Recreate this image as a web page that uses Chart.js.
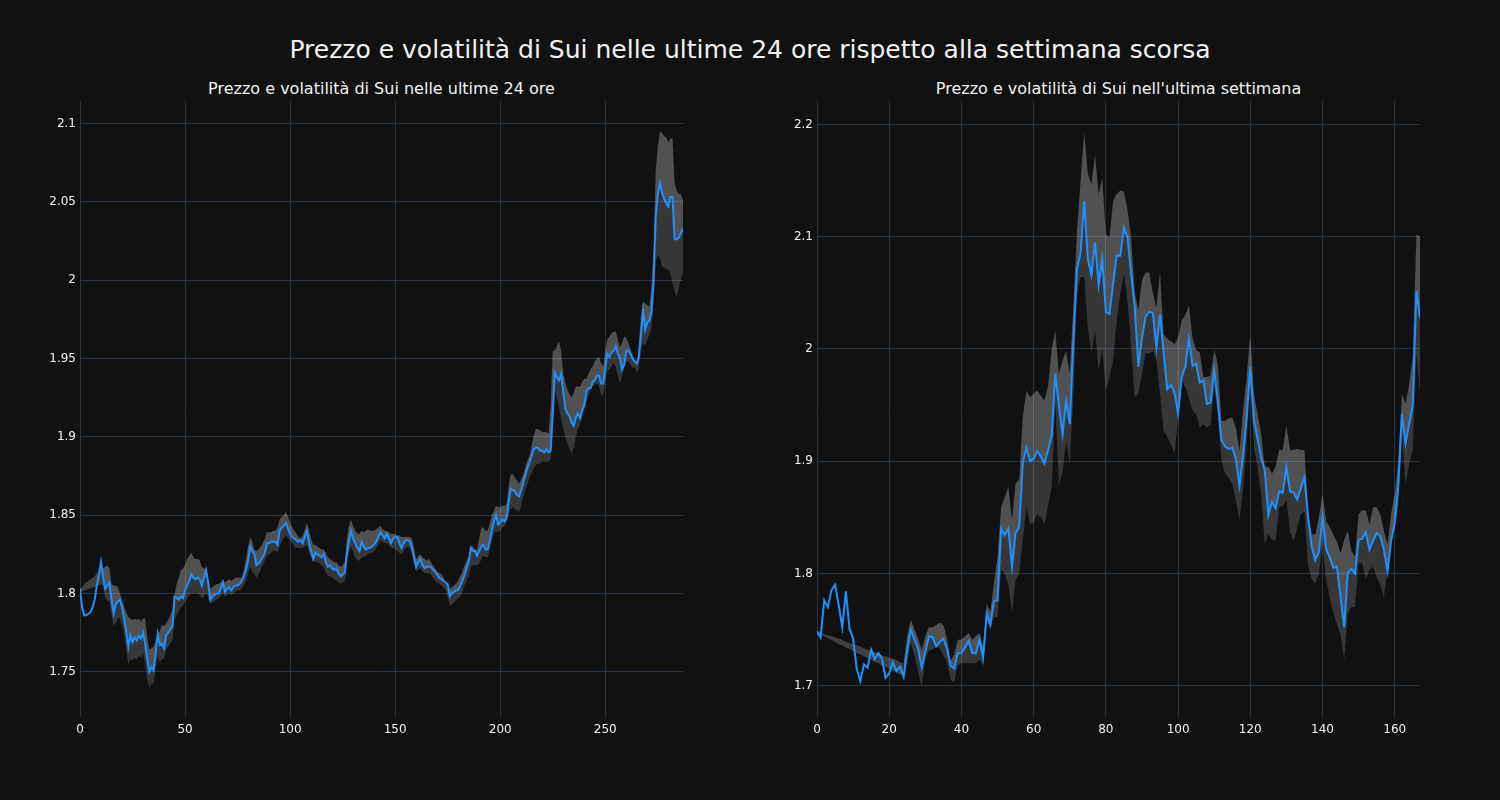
<!DOCTYPE html>
<html>
<head>
<meta charset="utf-8">
<script src="https://cdn.jsdelivr.net/npm/chart.js@4.4.1/dist/chart.umd.min.js"></script>
<style>
  body { margin: 0; background: #111111; width: 1500px; height: 800px; overflow: hidden; font-family: 'DejaVu Sans', sans-serif; }
  .title { position: absolute; left: 0; top: 35px; width: 1500px; line-height: 30px; text-align: center; color: #f2f2f2; font-size: 25px; }
  .sub { position: absolute; top: 79px; width: 603px; line-height: 20px; text-align: center; color: #f2f2f2; font-size: 16px; }
  .box { position: absolute; top: 90px; width: 700px; height: 710px; }
</style>
</head>
<body>
<div class="title">Prezzo e volatilità di Sui nelle ultime 24 ore rispetto alla settimana scorsa</div>
<div class="sub" style="left:80px">Prezzo e volatilità di Sui nelle ultime 24 ore</div>
<div class="sub" style="left:817px">Prezzo e volatilità di Sui nell'ultima settimana</div>
<div class="box" style="left:0px"><canvas id="dayChart"></canvas></div>
<div class="box" style="left:737px"><canvas id="weekChart"></canvas></div>
<script>
// ultime 24 ore (5 minuti)
const dayPrice = [
  1.803,1.791,1.786,1.786,1.787,1.788,1.791,1.796,1.805,1.812,
  1.820,1.810,1.803,1.805,1.807,1.796,1.787,1.793,1.795,1.796,
  1.791,1.784,1.776,1.766,1.773,1.769,1.772,1.770,1.773,1.771,
  1.775,1.768,1.758,1.750,1.753,1.751,1.762,1.774,1.767,1.768,
  1.765,1.773,1.775,1.777,1.779,1.798,1.797,1.796,1.798,1.797,
  1.802,1.805,1.808,1.812,1.810,1.809,1.810,1.809,1.805,1.810,
  1.815,1.807,1.796,1.798,1.799,1.800,1.800,1.803,1.807,1.801,
  1.803,1.804,1.802,1.804,1.805,1.805,1.806,1.808,1.811,1.815,
  1.821,1.830,1.827,1.825,1.818,1.819,1.821,1.823,1.826,1.832,
  1.832,1.833,1.833,1.833,1.831,1.840,1.842,1.843,1.845,1.841,
  1.838,1.836,1.835,1.834,1.833,1.834,1.832,1.836,1.840,1.832,
  1.827,1.822,1.826,1.825,1.824,1.823,1.825,1.820,1.817,1.818,
  1.816,1.815,1.816,1.813,1.811,1.812,1.813,1.825,1.833,1.840,
  1.835,1.832,1.829,1.827,1.833,1.830,1.828,1.829,1.829,1.830,
  1.831,1.833,1.836,1.839,1.837,1.835,1.838,1.835,1.832,1.835,
  1.836,1.836,1.832,1.829,1.832,1.834,1.834,1.833,1.829,1.823,
  1.817,1.820,1.822,1.818,1.816,1.817,1.817,1.817,1.815,1.814,
  1.812,1.810,1.809,1.808,1.807,1.806,1.798,1.800,1.801,1.802,
  1.802,1.805,1.808,1.812,1.816,1.820,1.829,1.827,1.827,1.824,
  1.827,1.830,1.831,1.828,1.828,1.833,1.840,1.846,1.850,1.844,
  1.845,1.847,1.846,1.848,1.858,1.867,1.866,1.865,1.863,1.862,
  1.866,1.871,1.876,1.880,1.884,1.888,1.892,1.893,1.893,1.891,
  1.891,1.890,1.892,1.890,1.891,1.915,1.941,1.938,1.936,1.940,
  1.929,1.918,1.915,1.913,1.909,1.907,1.912,1.915,1.912,1.917,
  1.920,1.929,1.931,1.931,1.935,1.936,1.939,1.939,1.934,1.934,
  1.944,1.953,1.951,1.954,1.955,1.958,1.953,1.950,1.943,1.946,
  1.955,1.955,1.953,1.950,1.948,1.947,1.951,1.965,1.980,1.968,
  1.973,1.974,1.980,1.999,2.040,2.055,2.062,2.056,2.052,2.049,
  2.047,2.053,2.053,2.026,2.026,2.027,2.030,2.033
];
const dayUpper = [
  1.803,1.804,1.806,1.807,1.808,1.809,1.810,1.811,1.813,1.814,
  1.815,1.816,1.817,1.818,1.816,1.806,1.805,1.805,1.804,1.800,
  1.796,1.792,1.788,1.785,1.784,1.783,1.784,1.783,1.784,1.782,
  1.784,1.784,1.772,1.764,1.765,1.766,1.770,1.774,1.776,1.780,
  1.779,1.781,1.783,1.786,1.790,1.799,1.806,1.810,1.815,1.816,
  1.818,1.822,1.824,1.826,1.823,1.822,1.822,1.821,1.817,1.816,
  1.815,1.810,1.803,1.804,1.805,1.806,1.806,1.807,1.809,1.807,
  1.808,1.809,1.808,1.809,1.810,1.810,1.810,1.810,1.815,1.822,
  1.830,1.836,1.833,1.828,1.827,1.828,1.830,1.832,1.835,1.839,
  1.839,1.839,1.840,1.840,1.842,1.847,1.849,1.850,1.852,1.849,
  1.845,1.842,1.840,1.838,1.836,1.835,1.837,1.841,1.845,1.840,
  1.835,1.831,1.831,1.830,1.829,1.828,1.828,1.826,1.823,1.822,
  1.821,1.820,1.820,1.818,1.817,1.818,1.820,1.835,1.843,1.847,
  1.843,1.840,1.838,1.838,1.840,1.839,1.840,1.841,1.840,1.840,
  1.840,1.841,1.842,1.843,1.841,1.840,1.840,1.839,1.838,1.838,
  1.838,1.837,1.837,1.836,1.836,1.836,1.836,1.836,1.835,1.829,
  1.822,1.824,1.825,1.823,1.822,1.821,1.822,1.820,1.818,1.816,
  1.814,1.813,1.812,1.810,1.807,1.804,1.803,1.804,1.805,1.806,
  1.808,1.811,1.814,1.818,1.821,1.823,1.830,1.830,1.828,1.828,
  1.835,1.842,1.842,1.840,1.840,1.845,1.850,1.853,1.856,1.855,
  1.855,1.856,1.856,1.857,1.868,1.876,1.876,1.874,1.872,1.870,
  1.873,1.876,1.881,1.885,1.888,1.895,1.901,1.905,1.905,1.904,
  1.903,1.903,1.903,1.902,1.920,1.955,1.955,1.958,1.961,1.955,
  1.940,1.935,1.930,1.927,1.925,1.928,1.932,1.932,1.932,1.935,
  1.937,1.937,1.940,1.943,1.945,1.948,1.950,1.951,1.947,1.945,
  1.955,1.962,1.964,1.966,1.967,1.967,1.962,1.957,1.960,1.964,
  1.963,1.960,1.956,1.952,1.948,1.945,1.960,1.978,1.986,1.985,
  1.984,1.983,1.996,2.020,2.070,2.085,2.095,2.094,2.092,2.091,
  2.088,2.090,2.091,2.062,2.057,2.055,2.055,2.051
];
const dayLower = [
  1.801,1.801,1.802,1.802,1.803,1.803,1.804,1.804,1.805,1.805,
  1.806,1.804,1.797,1.795,1.795,1.786,1.779,1.781,1.784,1.784,
  1.780,1.773,1.764,1.755,1.758,1.757,1.759,1.758,1.760,1.759,
  1.762,1.755,1.745,1.740,1.742,1.743,1.752,1.760,1.756,1.758,
  1.758,1.764,1.766,1.768,1.770,1.783,1.786,1.788,1.791,1.792,
  1.795,1.797,1.799,1.800,1.800,1.800,1.800,1.799,1.797,1.798,
  1.800,1.798,1.793,1.794,1.795,1.796,1.797,1.798,1.800,1.798,
  1.799,1.800,1.799,1.800,1.801,1.802,1.802,1.803,1.805,1.808,
  1.813,1.817,1.814,1.812,1.810,1.812,1.815,1.818,1.821,1.824,
  1.825,1.826,1.827,1.827,1.826,1.830,1.833,1.835,1.837,1.835,
  1.834,1.832,1.830,1.829,1.829,1.829,1.829,1.830,1.831,1.826,
  1.823,1.821,1.820,1.820,1.819,1.818,1.817,1.813,1.811,1.811,
  1.810,1.809,1.808,1.807,1.806,1.807,1.808,1.818,1.826,1.830,
  1.826,1.823,1.821,1.821,1.823,1.823,1.824,1.825,1.826,1.826,
  1.827,1.829,1.831,1.834,1.833,1.832,1.832,1.831,1.829,1.829,
  1.828,1.827,1.826,1.825,1.827,1.829,1.830,1.829,1.825,1.819,
  1.814,1.815,1.816,1.814,1.813,1.813,1.813,1.812,1.810,1.808,
  1.807,1.806,1.805,1.804,1.802,1.798,1.792,1.793,1.794,1.796,
  1.797,1.798,1.801,1.805,1.808,1.811,1.817,1.818,1.818,1.818,
  1.819,1.822,1.824,1.823,1.823,1.828,1.834,1.838,1.840,1.839,
  1.840,1.842,1.843,1.845,1.850,1.854,1.855,1.854,1.853,1.852,
  1.856,1.862,1.866,1.870,1.874,1.877,1.880,1.882,1.883,1.883,
  1.884,1.884,1.884,1.884,1.886,1.905,1.930,1.925,1.918,1.912,
  1.905,1.900,1.896,1.892,1.889,1.893,1.900,1.905,1.908,1.912,
  1.917,1.922,1.926,1.930,1.932,1.933,1.934,1.932,1.927,1.926,
  1.935,1.942,1.943,1.945,1.947,1.945,1.938,1.934,1.938,1.944,
  1.948,1.948,1.946,1.944,1.944,1.941,1.943,1.955,1.960,1.958,
  1.962,1.965,1.970,1.985,2.012,2.016,2.014,2.009,2.008,2.007,
  2.007,2.004,1.998,1.993,1.989,1.995,2.001,2.005
];
const dayWedgeEnd = 10; // prima della finestra mobile
const dayXTicks = [0, 50, 100, 150, 200, 250];
const dayYTicks = [1.75, 1.8, 1.85, 1.9, 1.95, 2, 2.05, 2.1];

// ultima settimana (orario)
const weekPrice = [
  1.748,1.743,1.776,1.770,1.785,1.790,1.772,1.752,1.784,1.751,
  1.742,1.715,1.704,1.719,1.716,1.732,1.724,1.729,1.724,1.707,
  1.711,1.721,1.713,1.717,1.708,1.732,1.750,1.741,1.733,1.716,
  1.730,1.744,1.743,1.735,1.739,1.742,1.733,1.718,1.715,1.729,
  1.729,1.734,1.740,1.729,1.729,1.741,1.725,1.764,1.754,1.775,
  1.776,1.840,1.834,1.840,1.806,1.836,1.841,1.899,1.912,1.900,
  1.902,1.909,1.904,1.898,1.910,1.923,1.978,1.949,1.924,1.954,
  1.933,2.007,2.071,2.086,2.132,2.080,2.066,2.095,2.057,2.080,
  2.033,2.031,2.058,2.083,2.083,2.108,2.099,2.067,2.037,1.984,
  2.010,2.029,2.033,2.032,2.001,2.031,1.996,1.964,1.968,1.961,
  1.943,1.975,1.984,2.009,1.985,1.987,1.970,1.972,1.951,1.952,
  1.981,1.953,1.919,1.913,1.911,1.912,1.902,1.878,1.905,1.939,
  1.984,1.936,1.920,1.903,1.892,1.852,1.864,1.858,1.873,1.872,
  1.895,1.873,1.872,1.866,1.876,1.886,1.850,1.824,1.812,1.819,
  1.850,1.822,1.814,1.805,1.806,1.779,1.752,1.800,1.804,1.800,
  1.830,1.831,1.837,1.821,1.829,1.836,1.833,1.821,1.802,1.829,
  1.845,1.879,1.942,1.916,1.933,1.950,2.052,2.028
];
const weekUpper = [
  1.749,1.748,1.746,1.745,1.744,1.743,1.742,1.741,1.739,1.738,
  1.737,1.736,1.735,1.733,1.732,1.731,1.730,1.729,1.727,1.726,
  1.725,1.724,1.723,1.721,1.720,1.745,1.759,1.750,1.742,1.732,
  1.744,1.752,1.752,1.754,1.756,1.754,1.742,1.722,1.728,1.741,
  1.741,1.744,1.747,1.741,1.744,1.747,1.735,1.773,1.766,1.791,
  1.815,1.859,1.868,1.877,1.848,1.880,1.884,1.940,1.963,1.957,
  1.960,1.963,1.958,1.954,1.967,2.000,2.016,1.978,1.990,1.998,
  1.978,2.040,2.105,2.150,2.193,2.156,2.147,2.173,2.138,2.152,
  2.102,2.099,2.132,2.138,2.141,2.140,2.124,2.099,2.050,2.035,
  2.061,2.068,2.068,2.050,2.037,2.068,2.013,2.009,2.007,2.004,
  2.010,2.025,2.030,2.039,2.010,1.999,1.997,1.975,1.975,1.976,
  1.999,1.987,1.936,1.936,1.938,1.939,1.930,1.909,1.945,1.975,
  2.013,1.960,1.942,1.924,1.895,1.895,1.889,1.895,1.910,1.910,
  1.932,1.910,1.910,1.911,1.910,1.910,1.856,1.835,1.835,1.850,
  1.871,1.847,1.841,1.835,1.828,1.818,1.830,1.838,1.820,1.815,
  1.853,1.856,1.856,1.844,1.859,1.859,1.853,1.838,1.826,1.853,
  1.871,1.900,1.960,1.951,1.969,1.993,2.102,2.100
];
const weekLower = [
  1.747,1.745,1.744,1.742,1.741,1.739,1.737,1.736,1.734,1.733,
  1.731,1.729,1.728,1.726,1.725,1.723,1.721,1.720,1.718,1.717,
  1.715,1.713,1.712,1.710,1.709,1.722,1.738,1.727,1.712,1.700,
  1.723,1.732,1.732,1.735,1.733,1.727,1.722,1.705,1.703,1.718,
  1.720,1.720,1.720,1.720,1.720,1.723,1.717,1.758,1.751,1.761,
  1.761,1.803,1.800,1.790,1.765,1.794,1.800,1.830,1.859,1.844,
  1.845,1.853,1.850,1.844,1.860,1.877,1.951,1.879,1.890,1.918,
  1.898,1.960,2.049,2.064,2.064,2.019,1.996,2.016,1.981,2.000,
  1.963,1.975,1.990,2.025,2.049,2.067,2.043,2.000,1.957,1.960,
  1.978,1.996,1.996,1.998,1.990,1.960,1.927,1.922,1.915,1.907,
  1.936,1.972,1.966,1.956,1.945,1.942,1.930,1.933,1.930,1.933,
  1.966,1.942,1.901,1.889,1.885,1.880,1.865,1.847,1.877,1.915,
  1.972,1.913,1.895,1.870,1.826,1.835,1.830,1.829,1.859,1.860,
  1.865,1.837,1.829,1.841,1.853,1.855,1.806,1.795,1.791,1.800,
  1.826,1.794,1.779,1.765,1.755,1.745,1.723,1.764,1.770,1.770,
  1.809,1.809,1.795,1.803,1.806,1.797,1.790,1.779,1.803,1.829,
  1.840,1.860,1.924,1.880,1.898,1.910,1.996,1.960
];
const weekWedgeEnd = 24;
const weekXTicks = [0, 20, 40, 60, 80, 100, 120, 140, 160];
const weekYTicks = [1.7, 1.8, 1.9, 2, 2.1, 2.2];

Chart.defaults.font.family = "'DejaVu Sans', sans-serif";
Chart.defaults.font.size = 12;
Chart.defaults.color = '#f2f2f2';

const gridColor = '#283442';

function toPoints(values, keep) {
  return values.map((v, i) => ({ x: i, y: keep(i) ? v : null }));
}

function drawPanel(id, price, upper, lower, wedgeEnd, xMax, yMin, yMax, xTicks, yTicks) {
  const ctx = document.getElementById(id).getContext('2d');
  return new Chart(ctx, {
    type: 'line',
    data: {
      datasets: [
        { // 0: prezzo
          data: toPoints(price, () => true),
          borderColor: '#1e90ff', borderWidth: 2, pointRadius: 0, fill: false, tension: 0
        },
        { // 1: banda sopra
          data: toPoints(upper, i => i >= wedgeEnd),
          borderColor: 'transparent', borderWidth: 0, pointRadius: 0,
          backgroundColor: 'rgba(255,255,255,0.27)', fill: 0
        },
        { // 2: banda sotto
          data: toPoints(lower, i => i >= wedgeEnd),
          borderColor: 'transparent', borderWidth: 0, pointRadius: 0,
          backgroundColor: 'rgba(255,255,255,0.16)', fill: 0
        },
        { // 3: inizio finestra (sopra)
          data: toPoints(upper, i => i <= wedgeEnd),
          borderColor: 'transparent', borderWidth: 0, pointRadius: 0,
          backgroundColor: 'rgba(255,255,255,0.2)', fill: 4
        },
        { // 4: inizio finestra (sotto)
          data: toPoints(lower, i => i <= wedgeEnd),
          borderColor: 'transparent', borderWidth: 0, pointRadius: 0, fill: false
        }
      ]
    },
    options: {
      responsive: true,
      maintainAspectRatio: false,
      animation: false,
      layout: { padding: { top: 10, right: 17, left: 0, bottom: 0 } },
      plugins: { legend: { display: false }, tooltip: { enabled: false } },
      scales: {
        x: {
          type: 'linear', min: 0, max: xMax,
          afterBuildTicks: s => { s.ticks = xTicks.map(v => ({ value: v })); },
          afterFit: s => { s.height = 83; },
          grid: { color: gridColor, drawTicks: false },
          border: { display: false },
          ticks: { padding: 6, maxRotation: 0, autoSkip: false, callback: v => String(v) }
        },
        y: {
          type: 'linear', min: yMin, max: yMax,
          afterBuildTicks: s => { s.ticks = yTicks.map(v => ({ value: v })); },
          afterFit: s => { s.width = 80; },
          grid: { color: gridColor, drawTicks: false },
          border: { display: false },
          ticks: { padding: 4, autoSkip: false, callback: v => String(v) }
        }
      }
    }
  });
}

drawPanel('dayChart', dayPrice, dayUpper, dayLower, dayWedgeEnd, 287, 1.7211, 2.1142, dayXTicks, dayYTicks);
drawPanel('weekChart', weekPrice, weekUpper, weekLower, weekWedgeEnd, 167, 1.6721, 2.2207, weekXTicks, weekYTicks);
</script>
</body>
</html>
